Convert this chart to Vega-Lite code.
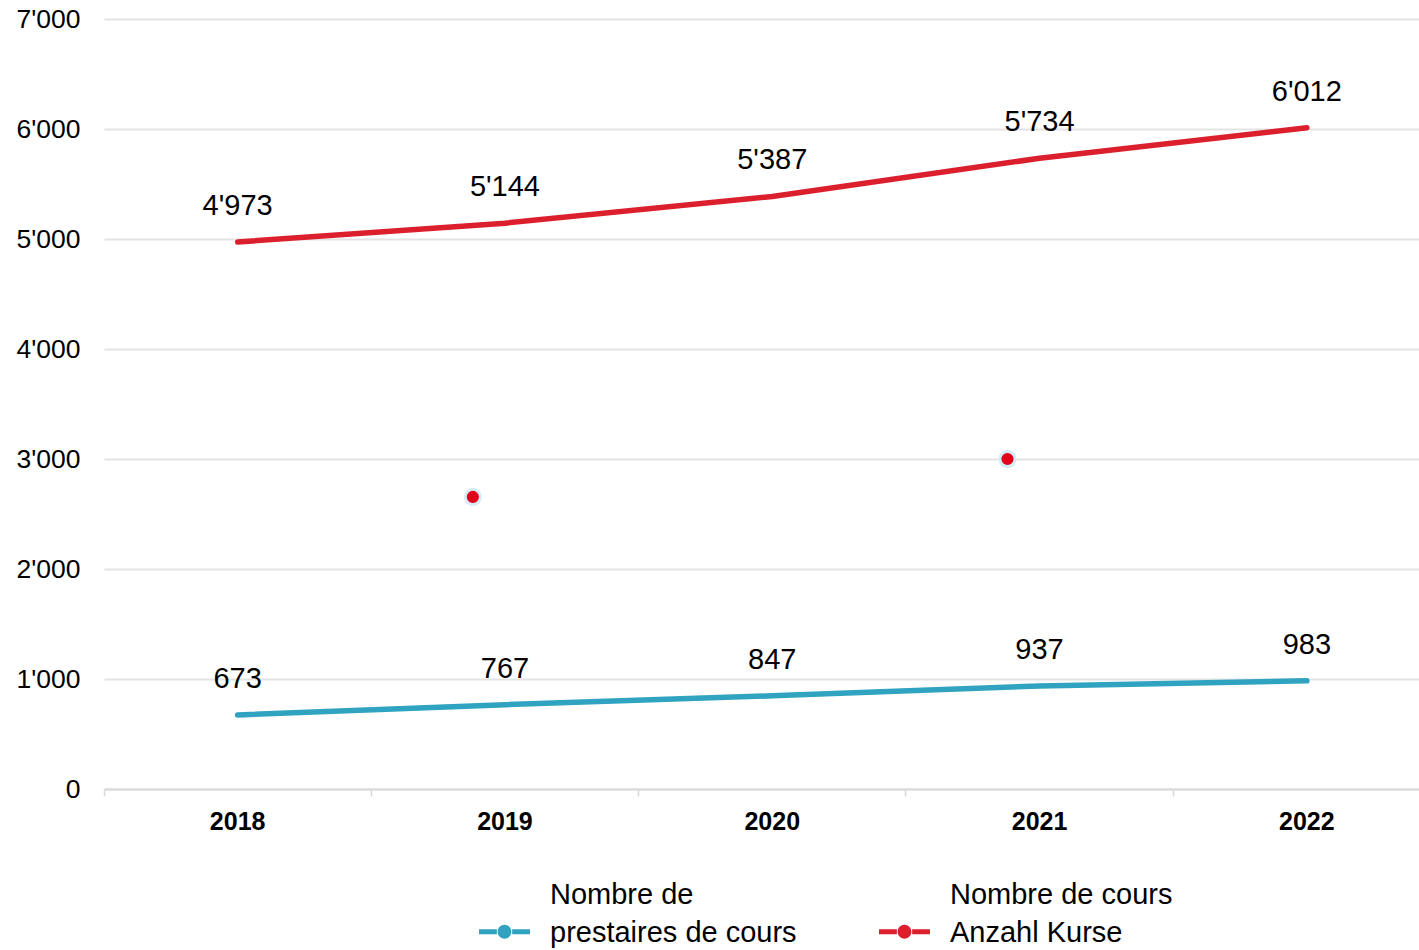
{
  "$schema": "https://vega.github.io/schema/vega-lite/v6.json",
  "autosize": {"type": "none"},
  "padding": {"left": 104, "top": 19, "right": 0, "bottom": 161},
  "width": 1315,
  "height": 770,
  "config": {
    "font": "Liberation Sans",
    "view": {"stroke": null},
    "locale": {"number": {"decimal": ".", "thousands": "'", "grouping": [3], "currency": ["", ""]}}
  },
  "datasets": {
    "main": [
      {"year": "2018", "series": "Nombre de prestaires de cours", "value": 673},
      {"year": "2019", "series": "Nombre de prestaires de cours", "value": 767},
      {"year": "2020", "series": "Nombre de prestaires de cours", "value": 847},
      {"year": "2021", "series": "Nombre de prestaires de cours", "value": 937},
      {"year": "2022", "series": "Nombre de prestaires de cours", "value": 983},
      {"year": "2018", "series": "Nombre de cours Anzahl Kurse", "value": 4973},
      {"year": "2019", "series": "Nombre de cours Anzahl Kurse", "value": 5144},
      {"year": "2020", "series": "Nombre de cours Anzahl Kurse", "value": 5387},
      {"year": "2021", "series": "Nombre de cours Anzahl Kurse", "value": 5734},
      {"year": "2022", "series": "Nombre de cours Anzahl Kurse", "value": 6012}
    ],
    "dots": [
      {"pos": 2018.88, "value": 2655},
      {"pos": 2020.88, "value": 3000}
    ]
  },
  "layer": [
    {
      "data": {"name": "main"},
      "encoding": {
        "x": {
          "field": "year", "type": "nominal",
          "scale": {"type": "band", "range": [0, 1336.5], "paddingInner": 0, "paddingOuter": 0},
          "axis": {
            "title": null, "labelAngle": 0, "bandPosition": 0,
            "labelFontSize": 25, "labelFontWeight": "bold", "labelColor": "#000000",
            "labelPadding": 13, "tickSize": 7, "tickColor": "#d9d9d9", "tickWidth": 1.5,
            "domainColor": "#d9d9d9", "domainWidth": 2, "grid": false
          }
        },
        "y": {
          "field": "value", "type": "quantitative",
          "scale": {"domain": [0, 7000], "nice": false},
          "axis": {
            "title": null, "values": [0, 1000, 2000, 3000, 4000, 5000, 6000, 7000],
            "labelExpr": "format(datum.value, ',')", "labelFontSize": 26.5, "labelColor": "#000000", "labelPadding": 24,
            "tickSize": 0, "domain": false, "grid": true, "gridColor": "#e3e3e3", "gridWidth": 2
          }
        }
      },
      "layer": [
        {
          "mark": {"type": "line", "strokeWidth": 5.5, "strokeCap": "round", "strokeJoin": "round"},
          "encoding": {
            "color": {
              "field": "series", "type": "nominal",
              "scale": {"domain": ["Nombre de prestaires de cours", "Nombre de cours Anzahl Kurse"], "range": ["#2fa3c0", "#dc1f2d"]},
              "legend": {
                "title": null, "orient": "none", "legendX": 375, "legendY": 887,
                "direction": "horizontal", "columns": 2, "columnPadding": 82,
                "labelExpr": "datum.value == 'Nombre de prestaires de cours' ? ['Nombre de', 'prestaires de cours'] : ['Nombre de cours', 'Anzahl Kurse']",
                "labelFontSize": 29, "labelColor": "#000000", "labelOffset": 20, "labelLimit": 400,
                "labelBaseline": "bottom",
                "symbolType": "M-1,-0.1H-0.3V0.1H-1Z M0.3,-0.1H1V0.1H0.3Z M-0.27,0A0.27,0.27 0 1,1 0.27,0A0.27,0.27 0 1,1 -0.27,0Z",
                "symbolSize": 2601,
                "encode": {
                  "symbols": {"update": {"fill": {"field": "value", "scale": "color"}, "strokeWidth": {"value": 0}}},
                  "labels": {"update": {"lineHeight": {"value": 38}, "dy": {"value": -22}}}
                }
              }
            }
          }
        },
        {
          "mark": {"type": "text", "fontSize": 29, "dy": -27, "baseline": "alphabetic", "color": "#000000"},
          "encoding": {"text": {"field": "value", "type": "quantitative", "format": ","}}
        }
      ]
    },
    {
      "data": {"name": "dots"},
      "mark": {"type": "point", "filled": true, "shape": "circle", "size": 230, "color": "#e3001b", "stroke": "#d4ecf4", "strokeWidth": 3, "opacity": 1},
      "encoding": {
        "x": {"field": "pos", "type": "quantitative", "scale": {"domain": [2017.5, 2022.5], "range": [0, 1336.5], "zero": false, "nice": false}, "axis": null},
        "y": {
          "field": "value", "type": "quantitative",
          "axis": {
            "title": null, "values": [0, 1000, 2000, 3000, 4000, 5000, 6000, 7000],
            "labelExpr": "format(datum.value, ',')", "labelFontSize": 26.5, "labelColor": "#000000", "labelPadding": 24,
            "tickSize": 0, "domain": false, "grid": true, "gridColor": "#e3e3e3", "gridWidth": 2
          }
        }
      }
    }
  ],
  "resolve": {"scale": {"x": "independent"}}
}
